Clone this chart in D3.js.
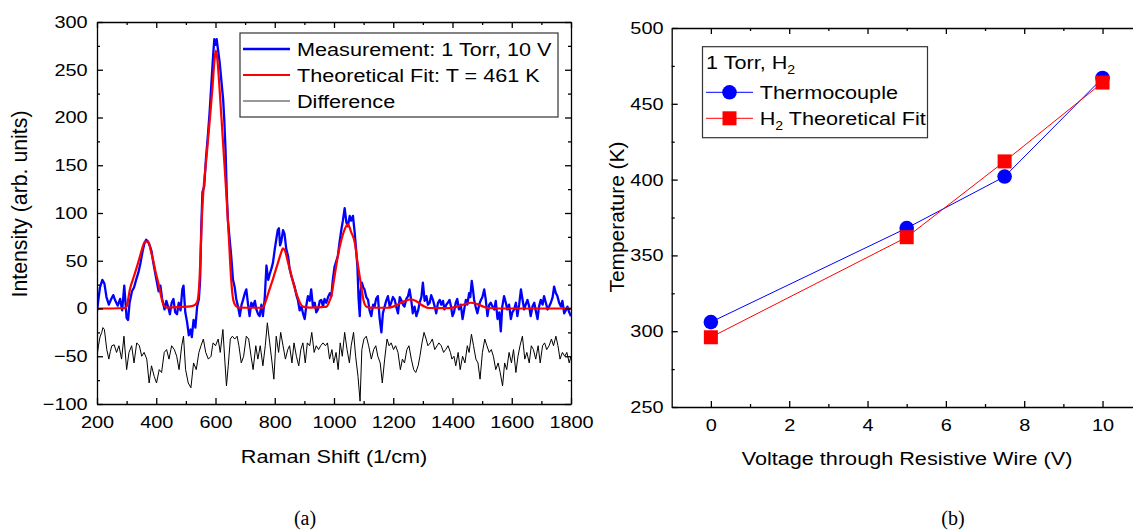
<!DOCTYPE html>
<html>
<head>
<meta charset="utf-8">
<script src="https://cdn.jsdelivr.net/npm/d3@7"></script>
<style>
  body { margin: 0; background: #fff; }
  svg text { font-family: "Liberation Sans", Arial, sans-serif; fill: #000; }
</style>
</head>
<body>
<svg id="chart" width="1133" height="531"></svg>
<script>
// ---- panel (a): Raman spectrum ----
const measurement = [[200,-3],[205,10],[210,22],[218,30],[225,26],[232,12],[240,4],[248,10],[255,14],[262,8],[270,3],[278,10],[285,-2],[292,24],[300,-10],[305,-12],[310,6],[318,18],[325,22],[332,30],[340,38],[347,48],[354,60],[360,68],[366,72],[372,70],[378,66],[384,60],[390,48],[396,38],[402,28],[408,18],[414,24],[420,10],[428,-1],[434,8],[440,2],[446,-6],[452,6],[458,10],[464,-4],[470,-6],[476,6],[482,-2],[488,20],[492,24],[498,-4],[504,-14],[510,-28],[516,-22],[520,-30],[526,-12],[532,-20],[538,2],[544,10],[548,30],[552,85],[556,122],[562,128],[568,158],[574,180],[580,205],[586,235],[592,265],[596,282],[600,276],[604,282],[608,272],[614,258],[620,238],[626,218],[630,195],[634,165],[638,120],[642,92],[648,72],[653,55],[659,30],[665,22],[670,10],[676,2],[682,-8],[688,4],[693,9],[699,16],[704,20],[710,4],[715,-8],[721,6],[727,2],[733,8],[738,-1],[744,-6],[749,-8],[755,4],[760,-8],[766,10],[772,45],[778,30],[783,36],[789,42],[794,48],[800,62],[805,72],[810,82],[814,84],[818,66],[822,70],[828,82],[833,78],[839,62],[845,55],[850,42],[856,34],[862,28],[867,23],[873,14],[878,9],[884,-2],[890,2],[896,-6],[901,-11],[907,4],[912,13],[918,8],[923,20],[929,2],[935,6],[940,-4],[946,-1],[952,8],[957,9],[963,2],[968,10],[974,6],[980,12],[986,16],[991,13],[996,30],[1002,44],[1008,50],[1013,55],[1019,70],[1025,83],[1030,92],[1036,105],[1042,90],[1047,86],[1053,97],[1058,92],[1064,97],[1070,79],[1075,60],[1079,44],[1083,10],[1087,-8],[1090,18],[1094,27],[1099,22],[1103,20],[1109,12],[1115,9],[1120,-2],[1126,-8],[1132,4],[1137,2],[1142,10],[1148,13],[1154,-10],[1160,-25],[1165,-5],[1171,2],[1176,8],[1182,13],[1188,2],[1193,6],[1199,12],[1205,9],[1210,2],[1216,-5],[1222,12],[1227,9],[1233,4],[1238,2],[1244,10],[1250,13],[1255,20],[1261,8],[1266,-5],[1272,2],[1278,-8],[1284,-2],[1289,6],[1295,12],[1300,27],[1306,8],[1312,13],[1317,4],[1323,6],[1328,14],[1334,9],[1340,2],[1345,-5],[1351,6],[1357,9],[1362,4],[1368,8],[1373,-1],[1379,4],[1384,6],[1390,9],[1395,2],[1400,-8],[1405,-4],[1411,6],[1416,10],[1422,-1],[1428,4],[1434,-11],[1439,-2],[1445,9],[1450,4],[1456,16],[1460,12],[1465,29],[1469,20],[1473,9],[1478,2],[1484,-5],[1490,4],[1496,9],[1501,12],[1507,20],[1512,10],[1518,-8],[1524,4],[1529,6],[1535,2],[1541,-1],[1546,8],[1552,-11],[1558,-4],[1563,-24],[1568,2],[1574,13],[1580,6],[1585,-1],[1591,4],[1597,-11],[1602,-4],[1608,-1],[1614,6],[1619,-8],[1625,4],[1631,20],[1636,10],[1642,-1],[1647,4],[1653,9],[1659,2],[1664,-8],[1670,2],[1676,6],[1681,-2],[1687,-11],[1692,2],[1698,9],[1704,4],[1709,13],[1715,6],[1721,-1],[1726,2],[1732,6],[1738,12],[1743,23],[1749,16],[1754,13],[1760,6],[1766,2],[1771,8],[1777,-5],[1782,-2],[1788,2],[1794,-4],[1800,-8]];

const theoreticalFit = [[200,0],[250,0],[295,0.5],[300,2],[311,20],[325,34],[339,48],[350,60],[362,70],[373,70],[382,60],[390,50],[398,38],[407,27],[415,15],[424,4],[435,1],[480,1.5],[520,2.5],[532,4],[540,9],[546,30],[550,60],[554,95],[558,118],[570,160],[580,195],[590,232],[596,258],[601,270],[606,262],[612,238],[620,200],[630,152],[638,113],[645,75],[650,45],[655,22],[660,9],[668,3],[680,1],[740,0.8],[760,1],[770,8],[780,18],[790,27],[800,37],[810,47],[820,57],[828,63],[835,60],[845,48],[855,36],[865,24],[875,14],[885,6],[895,2],[920,1],[960,1.5],[975,2],[985,8],[991,13],[1000,30],[1013,55],[1025,72],[1035,82],[1047,88],[1058,80],[1070,69],[1080,47],[1092,23],[1100,8],[1109,2],[1120,1],[1180,0.8],[1200,2],[1220,5],[1240,8],[1260,9.5],[1275,8],[1290,5],[1305,2],[1320,0.5],[1380,0.3],[1400,1],[1420,2.5],[1440,4.5],[1462,6],[1480,5],[1500,2.5],[1520,0.5],[1560,0],[1800,0]];

const difference = [[200,-50],[205,-39],[210,-30],[216,-25],[220,-20],[225,-22],[233,-43],[240,-53],[245,-45],[250,-39],[258,-38],[266,-46],[274,-39],[283,-53],[291,-29],[300,-64],[308,-46],[317,-39],[325,-57],[334,-36],[343,-39],[351,-50],[359,-46],[368,-53],[376,-78],[384,-60],[393,-71],[401,-78],[410,-64],[418,-67],[427,-46],[435,-43],[443,-53],[452,-39],[461,-43],[469,-50],[477,-64],[486,-39],[492,-29],[499,-64],[508,-78],[517,-83],[526,-57],[535,-64],[544,-46],[551,-39],[559,-32],[567,-46],[576,-53],[585,-50],[590,-39],[592,-36],[600,-39],[609,-32],[616,-46],[625,-22],[632,-57],[637,-81],[643,-60],[650,-32],[657,-29],[665,-32],[673,-29],[679,-39],[687,-57],[695,-50],[704,-29],[712,-32],[720,-50],[727,-64],[736,-39],[743,-53],[751,-39],[760,-60],[768,-39],[775,-15],[783,-36],[791,-57],[797,-74],[805,-29],[813,-46],[820,-25],[828,-39],[836,-53],[844,-43],[850,-39],[858,-57],[865,-36],[873,-50],[881,-60],[888,-43],[895,-36],[903,-57],[910,-36],[918,-39],[925,-25],[933,-46],[940,-39],[948,-43],[955,-39],[963,-36],[971,-39],[978,-36],[985,-53],[993,-43],[999,-57],[1007,-46],[1014,-64],[1021,-36],[1028,-50],[1036,-25],[1044,-43],[1052,-57],[1058,-39],[1066,-25],[1073,-50],[1081,-71],[1088,-97],[1094,-43],[1101,-32],[1109,-29],[1117,-39],[1126,-53],[1134,-43],[1141,-39],[1148,-50],[1156,-57],[1163,-78],[1171,-53],[1179,-32],[1186,-39],[1193,-36],[1201,-43],[1208,-39],[1216,-46],[1224,-64],[1231,-53],[1238,-57],[1246,-43],[1253,-39],[1261,-53],[1269,-64],[1276,-67],[1284,-60],[1290,-50],[1297,-36],[1304,-25],[1311,-32],[1317,-39],[1325,-36],[1332,-32],[1340,-43],[1348,-39],[1354,-36],[1362,-39],[1370,-46],[1377,-43],[1385,-39],[1393,-46],[1398,-53],[1405,-50],[1411,-60],[1419,-46],[1426,-64],[1434,-50],[1442,-57],[1450,-39],[1456,-46],[1464,-27],[1471,-39],[1479,-53],[1486,-57],[1493,-74],[1501,-46],[1509,-32],[1516,-39],[1524,-46],[1531,-43],[1538,-50],[1546,-64],[1554,-57],[1561,-67],[1569,-81],[1576,-57],[1583,-64],[1591,-46],[1599,-57],[1606,-43],[1614,-67],[1621,-50],[1628,-39],[1636,-29],[1644,-53],[1651,-46],[1659,-57],[1666,-39],[1673,-43],[1681,-53],[1689,-39],[1696,-57],[1704,-39],[1711,-36],[1718,-43],[1726,-39],[1734,-32],[1741,-39],[1749,-29],[1756,-39],[1763,-53],[1771,-46],[1779,-50],[1786,-46],[1794,-57],[1800,-50]];

const ramanMajor = [200, 400, 600, 800, 1000, 1200, 1400, 1600, 1800];
const ramanMinor = [300, 500, 700, 900, 1100, 1300, 1500, 1700];
const intensityMajor = [-100, -50, 0, 50, 100, 150, 200, 250, 300];
const intensityMinor = [-75, -25, 25, 75, 125, 175, 225, 275];

// ---- panel (b): temperature vs voltage ----
const voltage = [0, 5, 7.5, 10];
const thermocouple = [306, 368, 402, 467];
const h2Fit = [296, 362, 412, 464];

const voltMajor = [0, 2, 4, 6, 8, 10];
const voltMinor = [1, 3, 5, 7, 9];
const tempMajor = [250, 300, 350, 400, 450, 500];
const tempMinor = [275, 325, 375, 425, 475];

const S = 1.17;   // horizontal text stretch of the original figure
const svg = d3.select("#chart");

function frame(g, x, y, xMaj, xMin, yMaj, yMin, padX, padY) {
  const [x0, x1] = x.range();
  const [yb, yt] = y.range();
  const axes = [
    [d3.axisBottom(x), `translate(0,${yb})`, xMaj, xMin, true, padX],
    [d3.axisTop(x), `translate(0,${yt})`, xMaj, xMin, false, 0],
    [d3.axisLeft(y), `translate(${x0},0)`, yMaj, yMin, true, padY],
    [d3.axisRight(y), `translate(${x1},0)`, yMaj, yMin, false, 0]
  ];
  axes.forEach(([ax, tr, maj, min, labels, pad]) => {
    const a = g.append("g").attr("transform", tr)
      .call(ax.tickValues(maj).tickSizeInner(-6).tickSizeOuter(0).tickPadding(pad)
        .tickFormat(labels ? d3.format("") : ""));
    a.selectAll("text").style("font-size", "17px").attr("transform", `scale(${S},1)`);
    a.selectAll("line, path").attr("stroke", "#000").attr("stroke-width", 1.3);
    const m = g.append("g").attr("transform", tr)
      .call(ax.tickValues(min).tickSizeInner(-3).tickFormat(""));
    m.select(".domain").remove();
    m.selectAll("line").attr("stroke", "#000").attr("stroke-width", 1.3);
  });
}

function label(g, x, y, str, size, anchor) {
  return g.append("text")
    .attr("transform", `translate(${x},${y}) scale(${S},1)`)
    .attr("text-anchor", anchor || "start")
    .style("font-size", size + "px")
    .text(str);
}

function vlabel(g, x, y, str, size) {
  return g.append("text")
    .attr("transform", `translate(${x},${y}) rotate(-90)`)
    .attr("text-anchor", "middle")
    .style("font-size", size + "px")
    .text(str);
}

// ================= panel (a) =================
const ga = svg.append("g");
const xA = d3.scaleLinear([200, 1800], [97, 571]);
const yA = d3.scaleLinear([-100, 300], [404, 22]);

svg.append("clipPath").attr("id", "clipA").append("rect")
  .attr("x", 97).attr("y", 22).attr("width", 474).attr("height", 382);

const lineA = d3.line().x(d => xA(d[0])).y(d => yA(d[1]));
const plotA = ga.append("g").attr("clip-path", "url(#clipA)");
plotA.append("path").datum(difference).attr("d", lineA)
  .attr("fill", "none").attr("stroke", "#000").attr("stroke-width", 1);
plotA.append("path").datum(measurement).attr("d", lineA)
  .attr("fill", "none").attr("stroke", "#0000ff").attr("stroke-width", 2.3).attr("stroke-linejoin", "round");
plotA.append("path").datum(theoreticalFit).attr("d", d3.line().curve(d3.curveMonotoneX).x(d => xA(d[0])).y(d => yA(d[1])))
  .attr("fill", "none").attr("stroke", "#ff0000").attr("stroke-width", 2.2);

frame(ga, xA, yA, ramanMajor, ramanMinor, intensityMajor, intensityMinor, 12, 8);

label(ga, 334, 463, "Raman Shift (1/cm)", 18.5, "middle");
vlabel(ga, 27, 204, "Intensity (arb. units)", 21.3);

// legend (a)
const legA = ga.append("g");
legA.append("rect").attr("x", 240).attr("y", 33).attr("width", 318).attr("height", 84)
  .attr("fill", "#fff").attr("stroke", "#333").attr("stroke-width", 1.2);
[["Measurement: 1 Torr, 10 V", "#0000ff", 2.3], ["Theoretical Fit: T = 461 K", "#ff0000", 2.2], ["Difference", "#333", 1]]
  .forEach(([t, c, w], i) => {
    const yy = 49 + i * 26;
    legA.append("line").attr("x1", 243).attr("x2", 290).attr("y1", yy).attr("y2", yy)
      .attr("stroke", c).attr("stroke-width", w);
    label(legA, 297, yy + 6.5, t, 18.5);
  });

// ================= panel (b) =================
const gb = svg.append("g");
const xB = d3.scaleLinear([-1, 11], [671.7, 1141.7]);
const yB = d3.scaleLinear([250, 500], [407, 28]);

const lineB = d3.line().x((d, i) => xB(voltage[i])).y(d => yB(d));
gb.append("path").datum(thermocouple).attr("d", lineB)
  .attr("fill", "none").attr("stroke", "#0000ff").attr("stroke-width", 1);
gb.append("path").datum(h2Fit).attr("d", lineB)
  .attr("fill", "none").attr("stroke", "#ff0000").attr("stroke-width", 1);
gb.selectAll("circle.tc").data(thermocouple).join("circle").attr("class", "tc")
  .attr("cx", (d, i) => xB(voltage[i])).attr("cy", d => yB(d)).attr("r", 7.3).attr("fill", "#0000ff");
gb.selectAll("rect.fit").data(h2Fit).join("rect").attr("class", "fit")
  .attr("x", (d, i) => xB(voltage[i]) - 7).attr("y", d => yB(d) - 7)
  .attr("width", 14).attr("height", 14).attr("fill", "#ff0000");

frame(gb, xB, yB, voltMajor, voltMinor, tempMajor, tempMinor, 12, 7);

label(gb, 907, 465, "Voltage through Resistive Wire (V)", 18.5, "middle");
vlabel(gb, 624, 217, "Temperature (K)", 20.9);

// legend (b)
const legB = gb.append("g");
legB.append("rect").attr("x", 702.5).attr("y", 46.7).attr("width", 225).attr("height", 91)
  .attr("fill", "#fff").attr("stroke", "#333").attr("stroke-width", 1.2);
const t0 = label(legB, 706, 69, "1 Torr, H", 18.5);
t0.append("tspan").attr("dy", 5).style("font-size", "12px").text("2");

legB.append("line").attr("x1", 706).attr("x2", 753).attr("y1", 92.3).attr("y2", 92.3)
  .attr("stroke", "#0000ff").attr("stroke-width", 1);
legB.append("circle").attr("cx", 729.5).attr("cy", 92.3).attr("r", 7.3).attr("fill", "#0000ff");
label(legB, 759.7, 98.8, "Thermocouple", 18.5);

legB.append("line").attr("x1", 706).attr("x2", 753).attr("y1", 118.3).attr("y2", 118.3)
  .attr("stroke", "#ff0000").attr("stroke-width", 1);
legB.append("rect").attr("x", 722.5).attr("y", 111.3).attr("width", 14).attr("height", 14).attr("fill", "#ff0000");
const t2 = label(legB, 759.7, 124.8, "H", 18.5);
t2.append("tspan").attr("dy", 5).style("font-size", "12px").text("2");
t2.append("tspan").attr("dy", -5).text(" Theoretical Fit");

// captions
svg.append("text").attr("x", 305).attr("y", 525).attr("text-anchor", "middle")
  .style("font-family", "'Liberation Serif', 'Times New Roman', serif").style("font-size", "20px").text("(a)");
svg.append("text").attr("x", 953).attr("y", 525).attr("text-anchor", "middle")
  .style("font-family", "'Liberation Serif', 'Times New Roman', serif").style("font-size", "20px").text("(b)");
</script>
</body>
</html>
